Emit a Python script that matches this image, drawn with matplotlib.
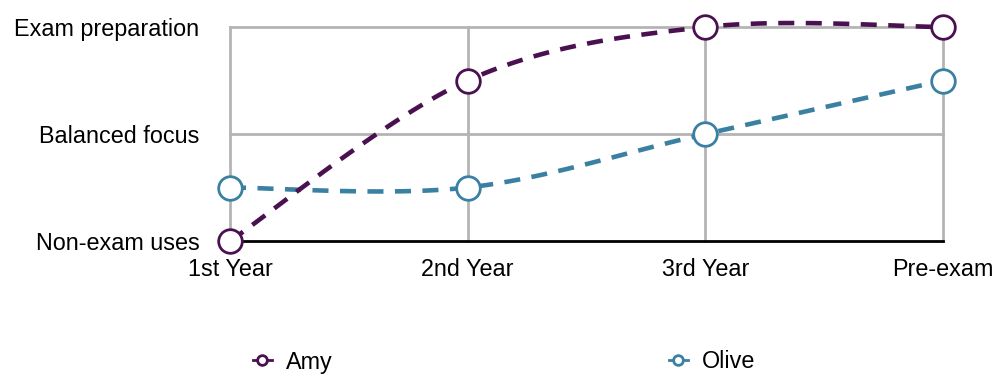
import numpy as np
import matplotlib.pyplot as plt
from matplotlib.lines import Line2D

plt.rcParams['font.family'] = ['Liberation Sans', 'DejaVu Sans']

stages = ['1st Year', '2nd Year', '3rd Year', 'Pre-exam']
focus_labels = ['Non-exam uses', 'Balanced focus', 'Exam preparation']
amy = [0, 1.5, 2, 2]
olive = [0.5, 0.5, 1, 1.5]

amy_color = '#4a1150'
olive_color = '#3a80a3'
fs = 16.8


def cardinal(xs, ys, steps=40):
    # cardinal spline (tension 0), endpoints repeated
    pts = np.column_stack([xs, ys]).astype(float)
    pts = np.vstack([pts[0], pts, pts[-1]])
    out = []
    for i in range(1, len(pts) - 2):
        p0, p1, p2, p3 = pts[i - 1], pts[i], pts[i + 1], pts[i + 2]
        c1 = p1 + (p2 - p0) / 6
        c2 = p2 - (p3 - p1) / 6
        t = np.linspace(0, 1, steps)[:, None]
        seg = ((1 - t) ** 3) * p1 + 3 * ((1 - t) ** 2) * t * c1 + 3 * (1 - t) * t ** 2 * c2 + t ** 3 * p2
        out.append(seg if i == 1 else seg[1:])
    out = np.vstack(out)
    return out[:, 0], out[:, 1]


fig = plt.figure(figsize=(9.97, 3.74), dpi=100)
ax = fig.add_axes([230 / 997, 133 / 374, 713 / 997, 214 / 374])

x = np.arange(len(stages))
ax.set_xlim(0, len(stages) - 1)
ax.set_ylim(0, 2)

for xi in x:
    ax.axvline(xi, color='#b4b4b4', lw=2, zorder=1, clip_on=False)
for yi in [1, 2]:
    ax.axhline(yi, color='#b4b4b4', lw=2, zorder=1, clip_on=False)
ax.axhline(0, color='black', lw=2, zorder=2, clip_on=False)

for vals, col in [(olive, olive_color), (amy, amy_color)]:
    sx, sy = cardinal(x, vals)
    ax.plot(sx, sy, color=col, lw=3.3, ls=(0, (3.5, 2.5)), clip_on=False, zorder=3)
    ax.plot(x, vals, 'o', ms=17, mfc='white', mec=col, mew=2, clip_on=False, zorder=4)

for s in ax.spines.values():
    s.set_visible(False)
ax.set_xticks(x)
ax.set_xticklabels(stages, fontsize=fs)
ax.set_yticks([0, 1, 2])
ax.set_yticklabels(focus_labels, fontsize=fs)
ax.tick_params(length=0)
ax.tick_params(axis='x', pad=12)
ax.tick_params(axis='y', pad=22)

# legend entries placed individually
for name, col, left in [('Amy', amy_color, 253), ('Olive', olive_color, 669)]:
    h = Line2D([], [], color=col, lw=2, marker='o', ms=7, mfc='white', mew=2)
    fig.legend([h], [name], loc='center left', bbox_to_anchor=(left / 997, 1 - 362 / 374),
               frameon=False, fontsize=fs, handlelength=0.8, handletextpad=0.6,
               borderpad=0, borderaxespad=0)

fig.savefig('out.png', dpi=100)
